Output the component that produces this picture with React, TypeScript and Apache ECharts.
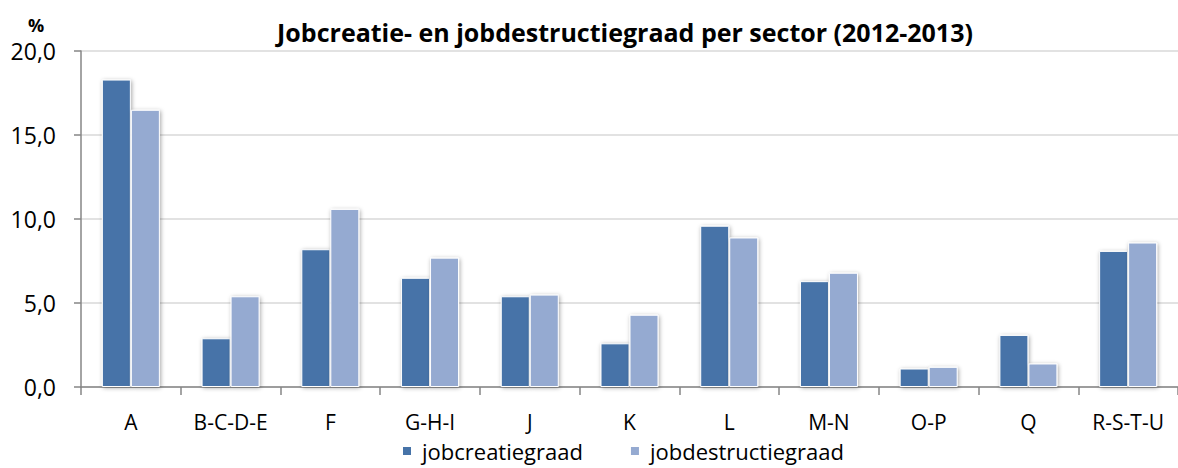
import React, { useEffect, useRef } from "react";
import * as echarts from "echarts";

const categories = ["A", "B-C-D-E", "F", "G-H-I", "J", "K", "L", "M-N", "O-P", "Q", "R-S-T-U"];
const jobcreatie = [18.3, 2.9, 8.2, 6.5, 5.4, 2.6, 9.6, 6.3, 1.1, 3.1, 8.1];
const jobdestructie = [16.5, 5.4, 10.6, 7.7, 5.5, 4.3, 8.9, 6.8, 1.2, 1.4, 8.6];
const yTicks = [0, 5, 10, 15, 20];

const FONT = "'Open Sans', 'Noto Sans', sans-serif";

export default function App() {
  const ref = useRef<HTMLDivElement>(null);
  useEffect(() => {
    if (!ref.current) return;
    const chart = echarts.init(ref.current, null, { renderer: "svg" });
    const barStyle = (color: string) => ({
      color,
      borderColor: "#ffffff",
      borderWidth: 1,
      shadowBlur: 4,
      shadowColor: "rgba(0,0,0,0.35)",
      shadowOffsetX: 1,
      shadowOffsetY: 1,
    });
    chart.setOption({
      animation: false,
      backgroundColor: "#ffffff",
      title: {
        text: "Jobcreatie- en jobdestructiegraad per sector (2012-2013)",
        left: 620,
        textAlign: "center",
        top: 12,
        textStyle: { fontFamily: FONT, fontSize: 25, fontWeight: "bold", color: "#000", lineHeight: 30 },
      },
      graphic: [
        {
          type: "text",
          x: 36,
          y: 25,
          style: {
            text: "%",
            fontFamily: FONT,
            fontSize: 18,
            fontWeight: "bold",
            fill: "#000",
            align: "center",
            verticalAlign: "middle",
          },
        },
      ],
      legend: {
        left: 401,
        top: 440,
        padding: 0,
        itemWidth: 10,
        itemHeight: 10,
        itemGap: 46,
        icon: "rect",
        textStyle: { fontFamily: FONT, fontSize: 22, lineHeight: 20, color: "#000", padding: [0, 0, 0, 5] },
        data: ["jobcreatiegraad", "jobdestructiegraad"],
      },
      grid: { left: 81, top: 51, width: 1105, height: 336, containLabel: false },
      xAxis: {
        type: "category",
        data: categories,
        axisLine: { lineStyle: { color: "#868686", width: 1.5 } },
        axisTick: { show: true, length: 8, alignWithLabel: false, lineStyle: { color: "#868686", width: 1.5 } },
        axisLabel: { fontFamily: FONT, fontSize: 21, color: "#000", margin: 24, interval: 0 },
      },
      yAxis: {
        type: "value",
        min: 0,
        max: 20,
        interval: 5,
        axisLine: { show: true, lineStyle: { color: "#868686", width: 1.5 } },
        axisTick: { show: true, length: 7, lineStyle: { color: "#868686", width: 1.5 } },
        splitLine: { lineStyle: { color: "#d9d9d9", width: 1.5 } },
        axisLabel: {
          fontFamily: FONT,
          fontSize: 23,
          lineHeight: 22,
          color: "#000",
          margin: 25,
          formatter: (v: number) => (yTicks.includes(v) ? v.toFixed(1).replace(".", ",") : ""),
        },
      },
      series: [
        {
          name: "jobcreatiegraad",
          type: "bar",
          data: jobcreatie,
          barWidth: 29,
          barGap: "0%",
          itemStyle: barStyle("#4673a8"),
        },
        {
          name: "jobdestructiegraad",
          type: "bar",
          data: jobdestructie,
          barWidth: 29,
          barGap: "0%",
          itemStyle: barStyle("#95aad1"),
        },
      ],
    });
    return () => chart.dispose();
  }, []);
  return <div ref={ref} style={{ width: 1178, height: 468, position: "absolute", left: 0, top: 0 }} />;
}
